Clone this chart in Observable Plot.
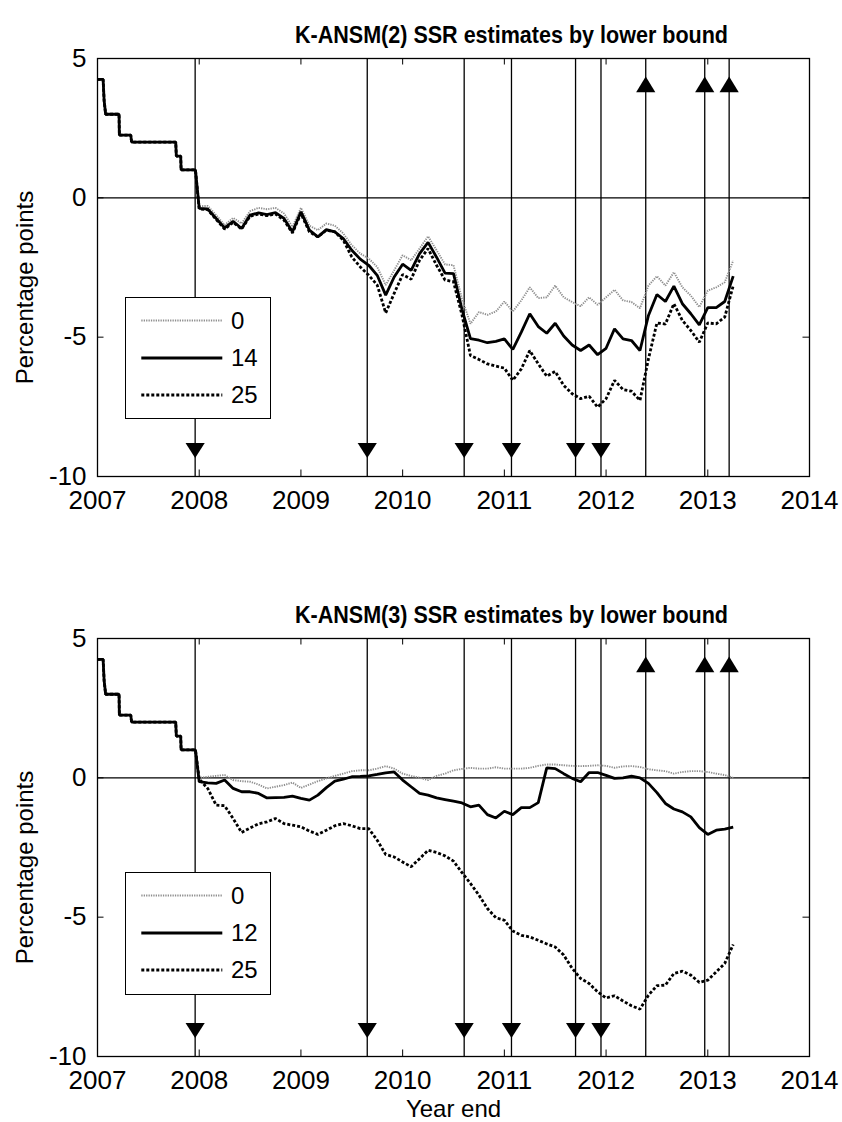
<!DOCTYPE html>
<html><head><meta charset="utf-8">
<script src="https://cdn.jsdelivr.net/npm/d3@7"></script>
<script src="https://cdn.jsdelivr.net/npm/@observablehq/plot@0.6"></script>
<style>
body{margin:0;background:#fff;}
#root{position:relative;width:842px;height:1122px;font-family:"Liberation Sans",Arial,sans-serif;}
.panel{position:relative;width:842px;}
.legend{position:absolute;background:#fff;border:1.2px solid #000;box-sizing:border-box;}
</style></head><body><div id="root"></div>
<script>
// ---- data ----
const stepYears  = [2007.0, 2007.055, 2007.065, 2007.08, 2007.212, 2007.215, 2007.327, 2007.335, 2007.769, 2007.775, 2007.818, 2007.822, 2007.963];
const stepValues = [4.25, 4.25, 3.5, 3.0, 3.0, 2.25, 2.25, 2.0, 2.0, 1.5, 1.5, 1.0, 1.0];
const monthStart = 2008; // monthly observations from end-2007 to Mar 2013

const top0  = [-0.3,-0.29,-0.62,-0.98,-0.72,-0.92,-0.48,-0.36,-0.41,-0.36,-0.56,-1.04,-0.36,-1.0,-1.16,-0.92,-1.0,-1.28,-1.7,-2.0,-2.18,-2.48,-3.13,-2.6,-2.06,-2.24,-1.82,-1.38,-1.88,-2.39,-2.42,-3.62,-4.52,-4.1,-4.2,-4.08,-3.72,-4.08,-3.68,-3.21,-3.6,-3.57,-3.15,-3.57,-3.74,-3.89,-3.57,-3.84,-3.57,-3.3,-3.68,-3.74,-3.96,-3.15,-2.81,-3.15,-2.67,-3.21,-3.51,-3.92,-3.33,-3.21,-3.03,-2.25];
const top14 = [-0.38,-0.4,-0.74,-1.08,-0.84,-1.1,-0.62,-0.54,-0.6,-0.53,-0.74,-1.22,-0.5,-1.16,-1.4,-1.14,-1.22,-1.46,-1.88,-2.2,-2.42,-2.78,-3.49,-2.84,-2.38,-2.6,-2.0,-1.6,-2.13,-2.7,-2.72,-4.0,-5.05,-5.11,-5.2,-5.15,-5.06,-5.44,-4.82,-4.16,-4.62,-4.86,-4.5,-4.96,-5.28,-5.48,-5.28,-5.63,-5.4,-4.7,-5.06,-5.12,-5.48,-4.22,-3.47,-3.72,-3.17,-3.8,-4.16,-4.56,-3.94,-3.94,-3.72,-2.81];
const top25 = [-0.4,-0.42,-0.78,-1.12,-0.88,-1.12,-0.66,-0.58,-0.64,-0.58,-0.8,-1.26,-0.56,-1.22,-1.4,-1.16,-1.22,-1.52,-2.12,-2.48,-2.78,-3.13,-4.13,-3.43,-2.75,-2.92,-2.24,-1.82,-2.42,-2.95,-3.01,-4.2,-5.66,-5.8,-5.96,-6.04,-6.11,-6.55,-6.14,-5.48,-5.96,-6.4,-6.23,-6.73,-7.03,-7.21,-7.12,-7.51,-7.21,-6.55,-6.88,-6.94,-7.27,-5.78,-4.49,-4.53,-3.8,-4.4,-4.76,-5.18,-4.49,-4.52,-4.28,-3.15];

const bot0  = [0.0,0.04,0.07,0.1,-0.08,-0.12,-0.14,-0.24,-0.38,-0.32,-0.26,-0.17,-0.36,-0.24,-0.12,-0.02,0.07,0.15,0.24,0.27,0.27,0.33,0.42,0.33,0.15,0.07,0.0,-0.08,0.07,0.15,0.27,0.32,0.36,0.33,0.33,0.38,0.33,0.33,0.33,0.36,0.43,0.48,0.48,0.45,0.43,0.42,0.43,0.45,0.43,0.36,0.41,0.42,0.39,0.31,0.27,0.24,0.15,0.21,0.24,0.24,0.21,0.15,0.1,0.0];
const bot12 = [-0.14,-0.18,-0.2,-0.08,-0.38,-0.5,-0.5,-0.56,-0.72,-0.71,-0.7,-0.66,-0.74,-0.8,-0.62,-0.35,-0.12,-0.05,0.04,0.05,0.07,0.12,0.18,0.21,-0.08,-0.32,-0.56,-0.62,-0.72,-0.78,-0.84,-0.9,-1.04,-0.98,-1.32,-1.44,-1.2,-1.32,-1.07,-1.07,-0.89,0.36,0.33,0.15,-0.02,-0.14,0.19,0.19,0.09,-0.02,0.0,0.06,0.0,-0.2,-0.53,-0.92,-1.12,-1.22,-1.4,-1.79,-2.03,-1.88,-1.84,-1.77];
const bot25 = [-0.05,-0.38,-0.98,-1.0,-1.46,-1.96,-1.8,-1.65,-1.58,-1.46,-1.64,-1.7,-1.76,-1.91,-2.03,-1.88,-1.72,-1.64,-1.72,-1.82,-1.82,-2.24,-2.75,-2.84,-3.02,-3.19,-2.9,-2.6,-2.68,-2.8,-2.99,-3.4,-3.79,-4.21,-4.69,-5.02,-5.11,-5.5,-5.65,-5.71,-5.83,-5.96,-6.07,-6.36,-6.84,-7.2,-7.38,-7.68,-7.9,-7.82,-8.01,-8.18,-8.3,-7.8,-7.46,-7.44,-7.02,-6.94,-7.08,-7.34,-7.26,-6.96,-6.66,-5.98];

const eventDates = [2007.96, 2009.652, 2010.605, 2011.07, 2011.70, 2011.95, 2012.39, 2012.97, 2013.21];
const eventDir   = ["down","down","down","down","down","down","up","up","up"];

const xTicks = [2007, 2008, 2009, 2010, 2011, 2012, 2013, 2014];
const yTicks = [-10, -5, 0, 5];

const titles = ["K-ANSM(2) SSR estimates by lower bound", "K-ANSM(3) SSR estimates by lower bound"];
const legendLabels = [["0", "14", "25"], ["0", "12", "25"]];
const panelSeries = [[top0, top14, top25], [bot0, bot12, bot25]];

// ---- styles ----
const FONT = '"Liberation Sans", Arial, sans-serif';
const lineStyles = [
  {stroke: "#8f8f8f", strokeWidth: 1.9, strokeDasharray: "1.3,1.1"},
  {stroke: "#000", strokeWidth: 2.8, strokeDasharray: null},
  {stroke: "#000", strokeWidth: 2.8, strokeDasharray: "3,2"}
];
const downTri = {draw(ctx) { ctx.moveTo(-9.6, -5.6); ctx.lineTo(9.6, -5.6); ctx.lineTo(0, 9.4); ctx.closePath(); }};
const upTri   = {draw(ctx) { ctx.moveTo(-9.6, 5.9); ctx.lineTo(9.6, 5.9); ctx.lineTo(0, -9.9); ctx.closePath(); }};

function seriesData(vals) {
  return stepYears.map((t, i) => ({t, v: stepValues[i]}))
    .concat(vals.map((v, k) => ({t: monthStart + k / 12, v})));
}

const root = document.getElementById("root");
const W = 842, MT = 58, ML = 97, MR = 33;
const heights = [580, 542], bottoms = [104, 66];

[0, 1].forEach(p => {
  const H = heights[p], MB = bottoms[p];
  const fh = H - MT - MB, fw = W - ML - MR;
  const tick = 6.5;
  const downs = eventDates.filter((d, i) => eventDir[i] === "down");
  const ups = eventDates.filter((d, i) => eventDir[i] === "up");
  const order = [0, 2, 1];
  const marks = [
    Plot.ruleY([0], {stroke: "#000", strokeWidth: 1.2}),
    Plot.ruleX(eventDates, {x: d => d, stroke: "#000", strokeWidth: 1.3}),
    ...order.map(s => Plot.line(seriesData(panelSeries[p][s]), {x: "t", y: "v", ...lineStyles[s], strokeLinejoin: "miter", strokeLinecap: "butt"})),
    Plot.dot(downs, {x: d => d, y: d => -9, symbol: downTri, fill: "#000", stroke: "none", r: 7}),
    Plot.dot(ups, {x: d => d, y: d => 4, symbol: upTri, fill: "#000", stroke: "none", r: 7}),
    Plot.tickX(xTicks, {x: d => d, insetTop: fh - tick, stroke: "#000", strokeWidth: 1}),
    Plot.tickX(xTicks, {x: d => d, insetBottom: fh - tick, stroke: "#000", strokeWidth: 1}),
    Plot.tickY(yTicks, {y: d => d, insetRight: fw - tick, stroke: "#000", strokeWidth: 1}),
    Plot.tickY(yTicks, {y: d => d, insetLeft: fw - tick, stroke: "#000", strokeWidth: 1}),
    Plot.frame({stroke: "#000", strokeWidth: 1.3}),
    Plot.axisX({ticks: xTicks, tickSize: 0, tickPadding: 14, tickFormat: d => String(d), fontSize: 26, label: null}),
    Plot.axisY({ticks: yTicks, tickSize: 0, tickPadding: 11, tickFormat: d => String(d), fontSize: 26, label: null}),
    Plot.text([titles[p]], {text: d => d, frameAnchor: "top", dx: 58, dy: -33, fontSize: 24, fontWeight: "bold", className: "ptitle"}),
    Plot.text(["Percentage points"], {text: d => d, frameAnchor: "left", textAnchor: "middle", rotate: -90, dx: -72, dy: 20, fontSize: 24})
  ];
  if (p === 1) marks.push(Plot.text(["Year end"], {text: d => d, frameAnchor: "bottom", dy: 60, fontSize: 24}));
  const chart = Plot.plot({
    width: W, height: H, marginTop: MT, marginBottom: MB, marginLeft: ML, marginRight: MR,
    x: {domain: [2007, 2014]}, y: {domain: [-10, 5]},
    style: {fontFamily: FONT, color: "#000", background: "#fff", overflow: "visible"},
    marks
  });
  // condense the bold title horizontally, as in the original
  d3.select(chart).selectAll(".ptitle text").attr("textLength", 433).attr("lengthAdjust", "spacingAndGlyphs");
  const panel = document.createElement("div");
  panel.className = "panel";
  panel.style.height = H + "px";
  panel.appendChild(chart);
  // legend
  const lg = document.createElement("div");
  lg.className = "legend";
  lg.style.left = "124.7px";
  lg.style.top = (p === 0 ? 296.7 : 292.3) + "px";
  lg.style.width = "146px";
  lg.style.height = "122.5px";
  const svg = d3.create("svg").attr("width", 144).attr("height", 120).style("display", "block");
  const rowsY = [22.5, 60, 97];
  legendLabels[p].forEach((lab, i) => {
    const st = lineStyles[i];
    svg.append("line").attr("x1", 15.3).attr("x2", 96.3).attr("y1", rowsY[i]).attr("y2", rowsY[i])
      .attr("stroke", st.stroke).attr("stroke-width", st.strokeWidth)
      .attr("stroke-dasharray", st.strokeDasharray);
    svg.append("text").attr("x", 105).attr("y", rowsY[i]).attr("dy", "0.35em")
      .attr("font-family", FONT).attr("font-size", 24).attr("fill", "#000").text(lab);
  });
  lg.appendChild(svg.node());
  panel.appendChild(lg);
  root.appendChild(panel);
});
</script></body></html>
